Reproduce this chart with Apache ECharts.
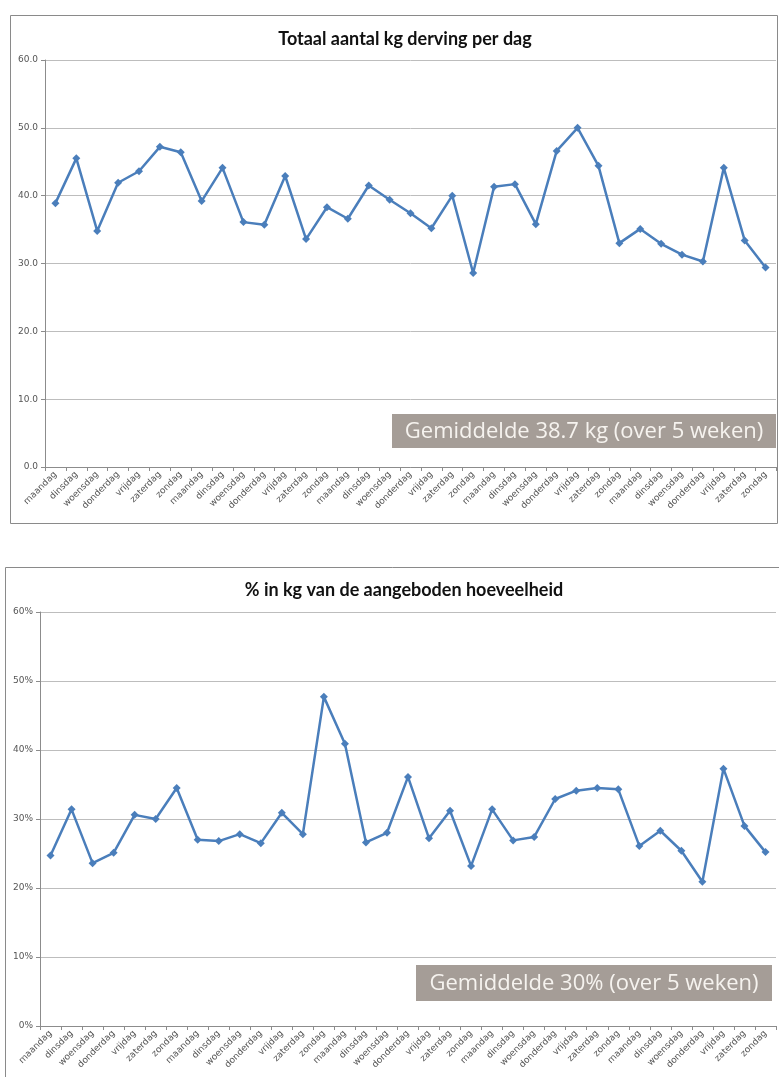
<!DOCTYPE html>
<html lang="nl">
<head>
    <meta charset="UTF-8">
    <title>Derving per dag</title>
    <style>
        html, body, #main {
            width: 100%;
            height: 100%;
            margin: 0;
            padding: 0;
            background: #fff;
        }
    </style>
    <script src="https://cdn.jsdelivr.net/npm/echarts@6/dist/echarts.min.js"></script>
</head>
<body>
    <div id="main"></div>
    <script>
        var weekDays = ['maandag', 'dinsdag', 'woensdag', 'donderdag', 'vrijdag', 'zaterdag', 'zondag'];
        var days = [];
        for (var w = 0; w < 5; w++) days = days.concat(weekDays);

        // kg derving per dag
        var kgValues = [
            38.9, 45.5, 34.8, 41.9, 43.6, 47.2, 46.4,
            39.2, 44.1, 36.1, 35.7, 42.9, 33.6, 38.3,
            36.6, 41.5, 39.4, 37.4, 35.2, 40.0, 28.6,
            41.3, 41.7, 35.8, 46.6, 50.0, 44.4, 33.0,
            35.1, 32.9, 31.3, 30.3, 44.1, 33.4, 29.4
        ];

        // % van de aangeboden hoeveelheid
        var pctValues = [
            24.7, 31.4, 23.6, 25.1, 30.6, 30.0, 34.5,
            27.0, 26.8, 27.8, 26.5, 30.9, 27.8, 47.7,
            40.9, 26.6, 28.0, 36.1, 27.2, 31.2, 23.2,
            31.4, 26.9, 27.4, 32.9, 34.1, 34.5, 34.3,
            26.1, 28.3, 25.4, 20.9, 37.3, 29.0, 25.2
        ];

        var titles = ['Totaal aantal kg derving per dag', '% in kg van de aangeboden hoeveelheid'];
        var notes = ['Gemiddelde 38.7 kg (over 5 weken)', 'Gemiddelde 30% (over 5 weken)'];

        var lineColor = '#4a7ebb';
        var gridColor = '#bdbdbd';
        var axisColor = '#8c8c8c';

        function xAxis(idx) {
            return {
                type: 'category',
                gridIndex: idx,
                data: days,
                boundaryGap: true,
                axisLine: { lineStyle: { color: axisColor } },
                axisTick: { show: true, length: 4, lineStyle: { color: axisColor } },
                axisLabel: {
                    interval: 0,
                    rotate: 45,
                    fontSize: 9,
                    color: '#555',
                    fontFamily: 'Verdana, DejaVu Sans, sans-serif',
                    margin: 6
                }
            };
        }

        function yAxis(idx, fmt) {
            return {
                type: 'value',
                gridIndex: idx,
                min: 0,
                max: 60,
                interval: 10,
                axisLine: { show: true, lineStyle: { color: axisColor } },
                axisTick: { show: true, length: 4, lineStyle: { color: axisColor } },
                splitLine: { lineStyle: { color: gridColor, width: 1 } },
                axisLabel: {
                    formatter: fmt,
                    fontSize: 9,
                    color: '#555',
                    fontFamily: 'Verdana, DejaVu Sans, sans-serif',
                    margin: 7
                }
            };
        }

        function lineSeries(idx, data) {
            return {
                type: 'line',
                xAxisIndex: idx,
                yAxisIndex: idx,
                data: data,
                symbol: 'diamond',
                symbolSize: 8,
                lineStyle: { color: lineColor, width: 2.5 },
                itemStyle: { color: lineColor },
                animation: false
            };
        }

        function noteBox(x, y, w, h, text) {
            return {
                type: 'group', x: x, y: y, z: 10,
                children: [
                    { type: 'rect', shape: { width: w, height: h }, style: { fill: '#a59d97' } },
                    {
                        type: 'text',
                        style: {
                            text: text, fill: '#f6f3ef', fontSize: 22,
                            fontFamily: 'Open Sans, sans-serif', align: 'center', verticalAlign: 'middle',
                            x: w / 2, y: h / 2 + 1
                        }
                    }
                ]
            };
        }

        var chart = echarts.init(document.getElementById('main'));
        chart.setOption({
            animation: false,
            title: [{
                text: titles[0],
                left: 400,
                textAlign: 'center',
                top: 25,
                textStyle: { fontSize: 18, fontWeight: 'bold', color: '#111', fontFamily: 'Lato, sans-serif' }
            }, {
                text: titles[1],
                left: 399,
                textAlign: 'center',
                top: 576,
                textStyle: { fontSize: 18, fontWeight: 'bold', color: '#111', fontFamily: 'Lato, sans-serif' }
            }],
            grid: [
                { left: 45, right: 3, top: 60, height: 407 },
                { left: 40, right: 3, top: 612, height: 414 }
            ],
            xAxis: [xAxis(0), xAxis(1)],
            yAxis: [
                yAxis(0, function (v) { return v.toFixed(1); }),
                yAxis(1, '{value}%')
            ],
            series: [lineSeries(0, kgValues), lineSeries(1, pctValues)],
            graphic: [
                {
                    type: 'rect', silent: true, z: -1,
                    shape: { x: 10.5, y: 15.5, width: 767, height: 508 },
                    style: { fill: 'none', stroke: '#8a8a8a', lineWidth: 1 }
                },
                {
                    type: 'rect', silent: true, z: -1,
                    shape: { x: 5.5, y: 567.5, width: 790, height: 520 },
                    style: { fill: 'none', stroke: '#8a8a8a', lineWidth: 1 }
                },
                noteBox(392, 414, 384, 34, notes[0]),
                noteBox(416, 965, 356, 36, notes[1])
            ]
        });
    </script>
</body>
</html>
